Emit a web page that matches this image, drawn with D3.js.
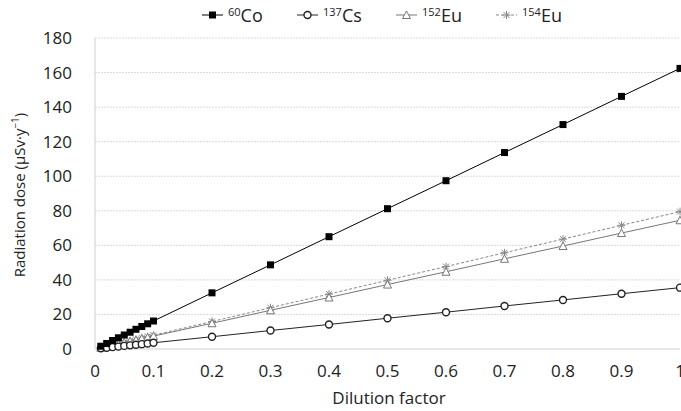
<!DOCTYPE html>
<html>
<head>
<meta charset="utf-8">
<script src="https://cdn.jsdelivr.net/npm/d3@7"></script>
<style>
  body { margin: 0; background: #fff; }
  svg { font-family: "Open Sans", "Noto Sans", sans-serif; }
</style>
</head>
<body>
<div id="chart"></div>
<script>
// dilution factors
var dilution = [0.01, 0.02, 0.03, 0.04, 0.05, 0.06, 0.07, 0.08, 0.09, 0.1,
                0.2, 0.3, 0.4, 0.5, 0.6, 0.7, 0.8, 0.9, 1.0];

// radiation dose per nuclide (uSv/y)
var co60  = [1.6, 3.2, 4.9, 6.5, 8.1, 9.7, 11.4, 13.0, 14.6, 16.2,
             32.5, 48.7, 65.0, 81.2, 97.4, 113.7, 129.9, 146.2, 162.4];
var cs137 = [0.4, 0.7, 1.1, 1.4, 1.8, 2.1, 2.5, 2.8, 3.2, 3.6,
             7.1, 10.7, 14.2, 17.8, 21.3, 24.9, 28.4, 32.0, 35.5];
var eu152 = [0.7, 1.5, 2.2, 3.0, 3.7, 4.5, 5.2, 6.0, 6.7, 7.5,
             14.9, 22.4, 29.8, 37.3, 44.7, 52.2, 59.6, 67.1, 74.5];
var eu154 = [0.8, 1.6, 2.4, 3.2, 4.0, 4.8, 5.6, 6.4, 7.2, 8.0,
             15.9, 23.9, 31.8, 39.8, 47.7, 55.7, 63.6, 71.6, 79.5];

var xTicks = [0, 0.1, 0.2, 0.3, 0.4, 0.5, 0.6, 0.7, 0.8, 0.9, 1];
var yTicks = [0, 20, 40, 60, 80, 100, 120, 140, 160, 180];

function init() {
    var w = 681, h = 411;
    var mLeft = 95, mRight = 680, mTop = 38, mBottom = 349;

    var svg = d3.select("#chart").append("svg")
        .attr("width", w)
        .attr("height", h);

    var x = d3.scaleLinear().domain([0, 1]).range([mLeft, mRight]);
    var y = d3.scaleLinear().domain([0, 180]).range([mBottom, mTop]);

    // gridlines
    svg.selectAll(".grid")
        .data(yTicks.slice(1))
        .enter().append("line")
        .attr("x1", mLeft).attr("x2", mRight)
        .attr("y1", function(d) { return y(d); })
        .attr("y2", function(d) { return y(d); })
        .attr("stroke", "#dadada")
        .attr("stroke-width", 1)
        .attr("stroke-dasharray", "2,1");

    // axis lines
    svg.append("line")
        .attr("x1", mLeft).attr("x2", mLeft).attr("y1", mTop).attr("y2", mBottom)
        .attr("stroke", "#d0d0d0");
    svg.append("line")
        .attr("x1", mLeft).attr("x2", mRight).attr("y1", mBottom).attr("y2", mBottom)
        .attr("stroke", "#d0d0d0");

    // tick labels
    svg.selectAll(".ytick")
        .data(yTicks)
        .enter().append("text")
        .attr("x", 72)
        .attr("y", function(d) { return y(d) + 6; })
        .attr("text-anchor", "end")
        .attr("font-size", 17)
        .attr("fill", "#222")
        .text(function(d) { return d; });

    svg.selectAll(".xtick")
        .data(xTicks)
        .enter().append("text")
        .attr("x", function(d) { return x(d); })
        .attr("y", 377)
        .attr("text-anchor", "middle")
        .attr("font-size", 17)
        .attr("fill", "#222")
        .text(function(d) { return d; });

    // axis titles
    svg.append("text")
        .attr("x", 389)
        .attr("y", 404)
        .attr("text-anchor", "middle")
        .attr("font-size", 17)
        .attr("fill", "#222")
        .text("Dilution factor");

    var yt = svg.append("text")
        .attr("transform", "translate(25,195) rotate(-90)")
        .attr("text-anchor", "middle")
        .attr("font-size", 15)
        .attr("fill", "#222");
    yt.append("tspan").text("Radiation dose (μSv·y");
    yt.append("tspan").attr("font-size", 10).attr("dy", -6).text("−1");
    yt.append("tspan").attr("dy", 6).text(")");

    // series settings
    var series = [
        { name: "Co", iso: "60", values: co60, color: "#000", dash: null, marker: "square" },
        { name: "Cs", iso: "137", values: cs137, color: "#222", dash: null, marker: "circle" },
        { name: "Eu", iso: "152", values: eu152, color: "#777", dash: null, marker: "triangle" },
        { name: "Eu", iso: "154", values: eu154, color: "#888", dash: "3,2", marker: "asterisk" }
    ];

    var line = d3.line()
        .x(function(d) { return x(d[0]); })
        .y(function(d) { return y(d[1]); });

    function drawMarker(g, type, cx, cy, color) {
        if (type === "square") {
            g.append("rect").attr("x", cx - 3.5).attr("y", cy - 3.5)
                .attr("width", 7).attr("height", 7).attr("fill", "#000");
        } else if (type === "circle") {
            g.append("circle").attr("cx", cx).attr("cy", cy).attr("r", 3.5)
                .attr("fill", "#fff").attr("stroke", color).attr("stroke-width", 1.4);
        } else if (type === "triangle") {
            g.append("path")
                .attr("d", "M" + cx + "," + (cy - 4) + "L" + (cx + 4) + "," + (cy + 3.5) + "L" + (cx - 4) + "," + (cy + 3.5) + "Z")
                .attr("fill", "#fff").attr("stroke", color).attr("stroke-width", 1);
        } else {
            var r = 4;
            g.append("path")
                .attr("d", "M" + (cx - r) + "," + cy + "L" + (cx + r) + "," + cy +
                           "M" + cx + "," + (cy - r) + "L" + cx + "," + (cy + r) +
                           "M" + (cx - 3) + "," + (cy - 3) + "L" + (cx + 3) + "," + (cy + 3) +
                           "M" + (cx - 3) + "," + (cy + 3) + "L" + (cx + 3) + "," + (cy - 3))
                .attr("stroke", color).attr("stroke-width", 1);
        }
    }

    // draw in reverse so Co sits on top
    series.slice().reverse().forEach(function(s) {
        var pts = dilution.map(function(d, i) { return [d, s.values[i]]; });
        svg.append("path")
            .datum(pts)
            .attr("d", line)
            .attr("fill", "none")
            .attr("stroke", s.color)
            .attr("stroke-width", 1)
            .attr("stroke-dasharray", s.dash);
        var g = svg.append("g");
        pts.forEach(function(p) {
            drawMarker(g, s.marker, x(p[0]), y(p[1]), s.color);
        });
    });

    // legend
    var legX = [202, 297, 396, 496];
    series.forEach(function(s, i) {
        var lx = legX[i], ly = 15;
        svg.append("line")
            .attr("x1", lx).attr("x2", lx + 21).attr("y1", ly).attr("y2", ly)
            .attr("stroke", s.color).attr("stroke-width", 1)
            .attr("stroke-dasharray", s.dash);
        drawMarker(svg, s.marker, lx + 10.5, ly, s.color);
        var t = svg.append("text")
            .attr("x", lx + 26).attr("y", ly + 7)
            .attr("font-size", 18)
            .attr("fill", "#222");
        t.append("tspan").attr("font-size", 11).attr("dy", -6).text(s.iso);
        t.append("tspan").attr("dy", 6).text(s.name);
    });
}

window.onload = init;
</script>
</body>
</html>
